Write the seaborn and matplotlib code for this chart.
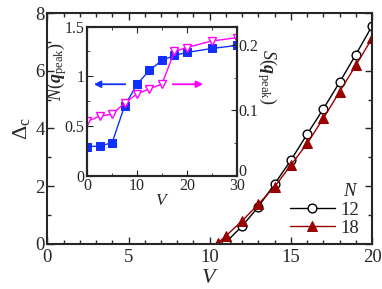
import matplotlib
matplotlib.use("Agg")
import matplotlib.pyplot as plt
import matplotlib.transforms as mtransforms
import seaborn as sns
import pandas as pd
from matplotlib.ticker import MultipleLocator

# main panel: Delta_c vs V
v12 = [11, 12, 13, 14, 15, 16, 17, 18, 19, 20]
d12 = [0.06, 0.62, 1.29, 2.08, 2.90, 3.80, 4.68, 5.60, 6.56, 7.55]
v18 = [10.5, 11, 12, 13, 14, 15, 16, 17, 18, 19, 20]
d18 = [0.03, 0.28, 0.80, 1.38, 1.98, 2.73, 3.48, 4.35, 5.27, 6.19, 7.12]

# inset: N(q_peak) and S(q_peak) vs V
v_in = [0, 2.5, 5, 7.5, 10, 12.5, 15, 17.5, 20, 25, 30]
n_q = [0.29, 0.30, 0.33, 0.70, 0.92, 1.06, 1.16, 1.21, 1.24, 1.28, 1.31]
s_q = [0.083, 0.091, 0.094, 0.111, 0.125, 0.133, 0.140, 0.190, 0.196, 0.206, 0.211]

sns.set_style("ticks")
plt.rcParams["font.family"] = ["Liberation Serif", "DejaVu Serif"]
plt.rcParams["mathtext.fontset"] = "custom"
plt.rcParams["mathtext.rm"] = "Liberation Serif"
plt.rcParams["mathtext.it"] = "Liberation Serif:italic"
plt.rcParams["mathtext.bf"] = "Liberation Serif:bold:italic"
plt.rcParams["xtick.direction"] = "in"
plt.rcParams["ytick.direction"] = "in"

df_main = pd.concat([
    pd.DataFrame({"V": v12, "D": d12, "N": "12"}),
    pd.DataFrame({"V": v18, "D": d18, "N": "18"}),
])
df_in = pd.DataFrame({"V": v_in, "Nq": n_q, "Sq": s_q})

fig = plt.figure(figsize=(3.82, 2.89), dpi=100)
ax = fig.add_axes([0.124, 0.156, 0.850, 0.799])

sns.lineplot(data=df_main[df_main.N == "12"], x="V", y="D", ax=ax, color="black",
             marker="o", markersize=6.3, markerfacecolor="white", markeredgecolor="black",
             markeredgewidth=1, linewidth=1, label="12")
sns.lineplot(data=df_main[df_main.N == "18"], x="V", y="D", ax=ax, color="#990000",
             marker="^", markersize=7, markerfacecolor="#990000", markeredgecolor="#990000",
             linewidth=1, label="18")

ax.set_xlim(0, 20)
ax.set_ylim(0, 8)
ax.xaxis.set_major_locator(MultipleLocator(5))
ax.xaxis.set_minor_locator(MultipleLocator(1))
ax.yaxis.set_major_locator(MultipleLocator(2))
ax.yaxis.set_minor_locator(MultipleLocator(1))
ax.tick_params(which="both", top=True, right=True, width=1, labelsize=13.5)
ax.tick_params(axis="x", pad=4)
ax.tick_params(axis="y", pad=2)
ax.tick_params(which="major", length=5)
ax.tick_params(which="minor", length=3)
for s in ax.spines.values():
    s.set_linewidth(1.5)
ax.set_xlabel("$V$", fontsize=16, labelpad=2)
ax.set_ylabel(r"$\Delta_{\rm c}$", fontsize=16, labelpad=2)

leg = ax.legend(title="$N$", loc="lower right", bbox_to_anchor=(1.0, -0.025), frameon=False,
                fontsize=13.5, title_fontsize=13.5, handlelength=2.4, handletextpad=0.3,
                labelspacing=0.05, borderpad=0.2)
leg._legend_box.align = "right"

# inset
axi = fig.add_axes([0.228, 0.392, 0.392, 0.516])
sns.lineplot(data=df_in, x="V", y="Nq", ax=axi, color="#1030ff", marker="s",
             markersize=5.5, markerfacecolor="#1030ff", markeredgecolor="#1030ff", linewidth=1)
axi.set_xlim(0, 30)
axi.set_ylim(0, 1.5)
axi.xaxis.set_major_locator(MultipleLocator(10))
axi.xaxis.set_minor_locator(MultipleLocator(5))
axi.yaxis.set_major_locator(MultipleLocator(0.5))
axi.yaxis.set_minor_locator(MultipleLocator(0.25))
axi.set_yticks([0, 0.5, 1, 1.5], ["0", "0.5", "1", "1.5"])
axi.tick_params(which="both", top=True, labelsize=11.5, pad=2)
axi.tick_params(which="major", length=4)
axi.tick_params(which="minor", length=2.5)
for s in axi.spines.values():
    s.set_linewidth(1.5)
axi.set_xlabel("$V$", fontsize=12.5, labelpad=-1)
axi.set_ylabel(r"$N(\mathbf{q}_{\rm peak})$", fontsize=13)
axi.yaxis.set_label_coords(-0.12, 0.70)

axr = axi.twinx()
sns.lineplot(data=df_in, x="V", y="Sq", ax=axr, color="#ff00ff", marker="v",
             markersize=5.8, markerfacecolor="white", markeredgecolor="#ff00ff",
             markeredgewidth=1, linewidth=1)
axr.set_ylim(0, 0.228)
axr.yaxis.set_major_locator(MultipleLocator(0.1))
axr.yaxis.set_minor_locator(MultipleLocator(0.05))
axr.set_yticks([0, 0.1, 0.2], ["0", "0.1", "0.2"])
axr.tick_params(which="both", labelsize=11.5, pad=1)
axr.tick_params(which="major", length=4)
axr.tick_params(which="minor", length=2.5)
axr.set_ylabel(r"$S(\mathbf{q}_{\rm peak})$", fontsize=13, rotation=270, va="center")
axr.yaxis.set_label_coords(1.20, 0.66)
for s in axr.spines.values():
    s.set_linewidth(1.5)

# lift the right-hand "0" a little so it clears the "30" below it
lab0 = axr.get_yticklabels()[0]
lab0.set_transform(lab0.get_transform() +
                   mtransforms.ScaledTranslation(0, 6 / 100, fig.dpi_scale_trans))

axi.annotate("", xy=(0.8, 0.92), xytext=(8.2, 0.92),
             arrowprops=dict(arrowstyle="-|>", color="#1030ff", lw=1.3, mutation_scale=10))
axi.annotate("", xy=(23.8, 0.92), xytext=(16.6, 0.92),
             arrowprops=dict(arrowstyle="-|>", color="#ff00ff", lw=1.3, mutation_scale=10))

fig.savefig("out.png", dpi=100)
